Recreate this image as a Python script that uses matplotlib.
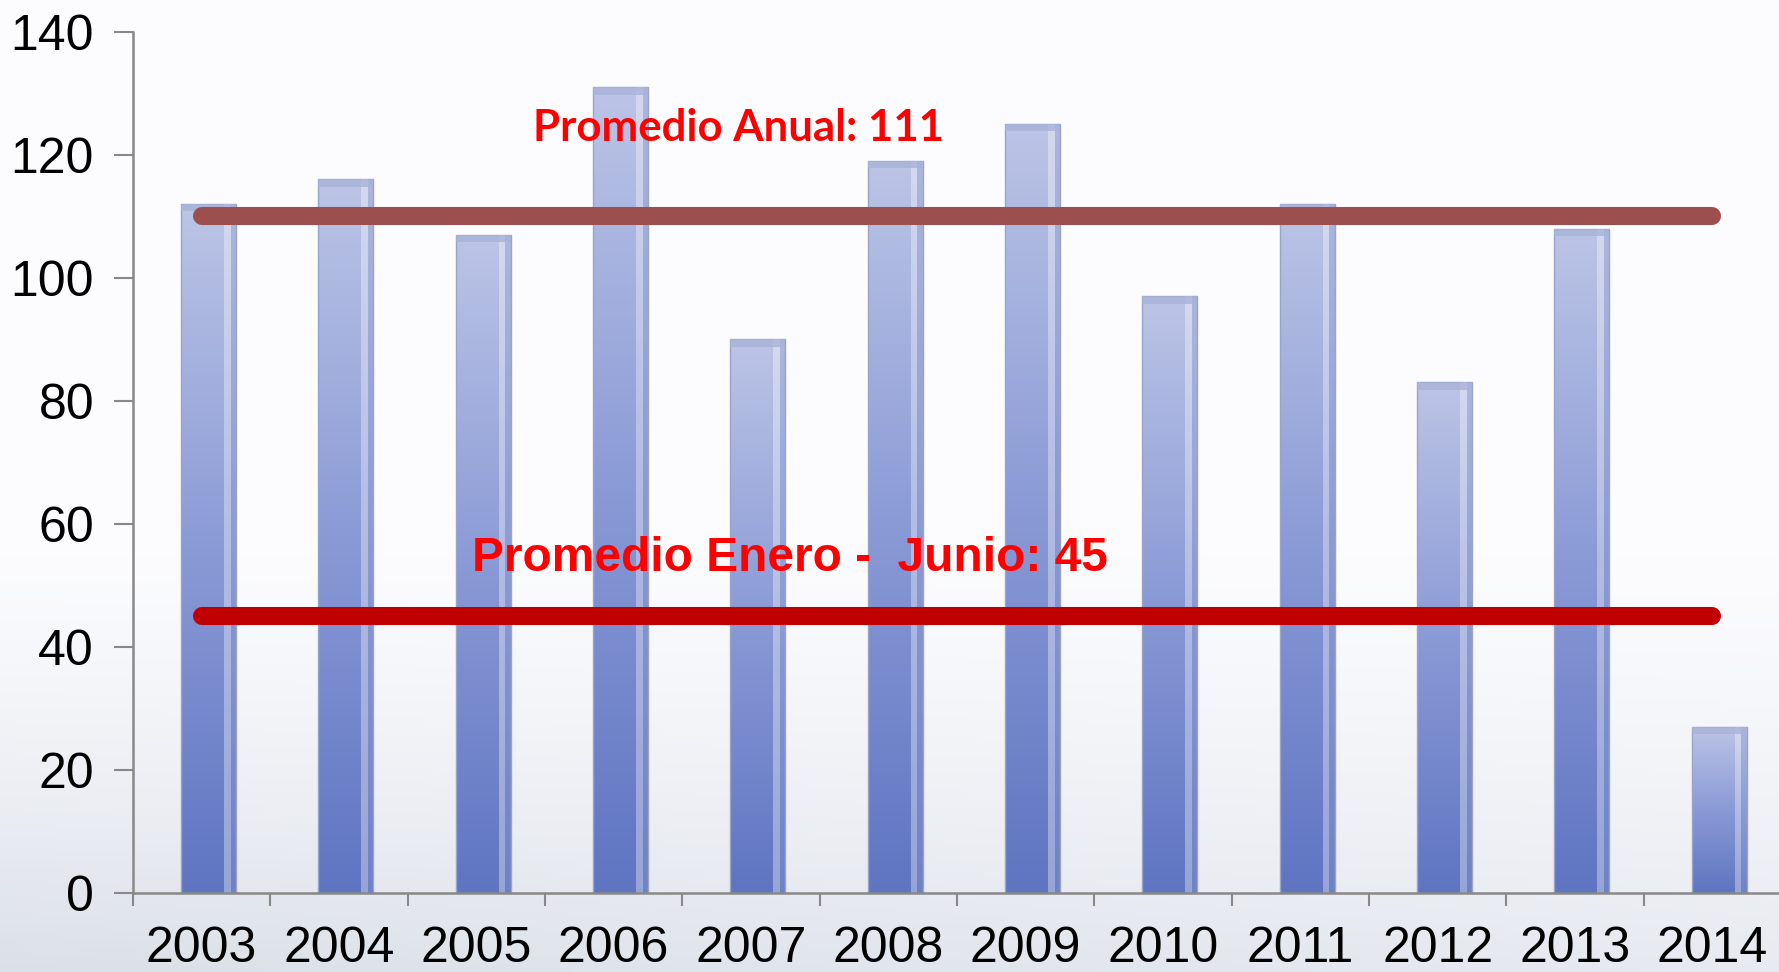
import numpy as np
import matplotlib
matplotlib.use("Agg")
import matplotlib.pyplot as plt
from matplotlib.colors import LinearSegmentedColormap

years = ["2003", "2004", "2005", "2006", "2007", "2008", "2009", "2010",
         "2011", "2012", "2013", "2014"]
values = [112, 116, 107, 131, 90, 119, 125, 97, 112, 83, 108, 27]
avg_anual = 110
avg_anual_label = "Promedio Anual: 111"
avg_enero_junio = 45
avg_ej_label = "Promedio Enero -  Junio: 45"
yticks = [0, 20, 40, 60, 80, 100, 120, 140]

W, H = 1779, 972
fig = plt.figure(figsize=(W / 100, H / 100), dpi=100)

# background gradient
bg = fig.add_axes([0, 0, 1, 1], zorder=-10)
bg.axis("off")
gy = np.linspace(0, 1, 256)[:, None]
gx = np.linspace(0, 1, 256)[None, :]
shade = np.clip((gy - 0.55) / 0.45, 0, 1) ** 1.3 * (1 - 0.35 * gx)
base = np.array([0.99, 0.99, 1.0])
dark = np.array([0.86, 0.88, 0.91])
img = base[None, None, :] * (1 - shade[..., None]) + dark[None, None, :] * shade[..., None]
bg.imshow(img, aspect="auto", extent=[0, 1, 0, 1], origin="upper")
bg.set_xlim(0, 1)
bg.set_ylim(0, 1)

ax = fig.add_axes([133 / W, 79 / H, (1781 - 133) / W, (893 - 31.8) / H])
ax.patch.set_alpha(0)
x = np.arange(len(years))
bw = 0.4
bar_offset = 0.05  # 3D bars sit slightly right of the category centre
bars = ax.bar(x + bar_offset, values, width=bw, color="none", edgecolor="#9aa3c8",
              linewidth=1.0, zorder=2)

cmap = LinearSegmentedColormap.from_list("barg", ["#5f75c2", "#8a9ad6", "#bcc5e6"])
grad = np.linspace(0, 1, 256)[:, None]
for b in bars:
    bx = b.get_x()
    bwid, bh = b.get_width(), b.get_height()
    im = ax.imshow(grad, cmap=cmap, aspect="auto", origin="lower",
                   extent=[bx, bx + bwid, 0, bh], zorder=1.5)
    im.set_clip_path(b)
    # highlight on the right side
    ax.bar(bx + bwid * 0.78, bh, width=bwid * 0.12, align="edge",
           color="white", alpha=0.35, linewidth=0, zorder=2.1)
    ax.bar(bx + bwid * 0.9, bh, width=bwid * 0.1, align="edge",
           color="#8f9ccf", alpha=0.35, linewidth=0, zorder=2.1)
    # bevelled top cap
    ax.bar(bx, 1.2, bottom=bh - 1.2, width=bwid, align="edge",
           color="#a9b2d8", alpha=0.8, linewidth=0, zorder=2.2)

ax.plot([x[0], x[-1]], [avg_anual, avg_anual], color="#9b4f4f", lw=13,
        solid_capstyle="round", zorder=3)
ax.plot([x[0], x[-1]], [avg_enero_junio, avg_enero_junio], color="#c00000", lw=13,
        solid_capstyle="round", zorder=3)

ax.text(3.91, 124.3, avg_anual_label, color="#ff0000", fontsize=31.5,
        fontweight="bold", family=["Lato", "DejaVu Sans"], ha="center", va="center", zorder=4)
ax.text(4.28, 54.4, avg_ej_label, color="#ff0000", fontsize=34.5,
        fontweight="bold", family=["Liberation Sans", "DejaVu Sans"], ha="center", va="center", zorder=4)

ax.set_xlim(-0.5, len(years) - 0.5)
ax.set_ylim(0, 140)
ax.set_yticks(yticks)
ax.set_yticklabels([str(v) for v in yticks], fontsize=36, family="Liberation Sans")
ax.set_xticks(x)
ax.set_xticklabels(years, fontsize=36, family="Liberation Sans")
ax.set_xticks(np.arange(len(years) + 1) - 0.5, minor=True)
ax.tick_params(axis="x", which="major", length=0, pad=24)
ax.tick_params(axis="x", which="minor", length=9, width=1.5, color="#888888", direction="out")
ax.tick_params(axis="y", length=14, width=1.5, color="#888888", pad=14)
for s in ["top", "right"]:
    ax.spines[s].set_visible(False)
for s in ["left", "bottom"]:
    ax.spines[s].set_color("#888888")
    ax.spines[s].set_linewidth(1.8)

fig.savefig("out.png", dpi=100)
